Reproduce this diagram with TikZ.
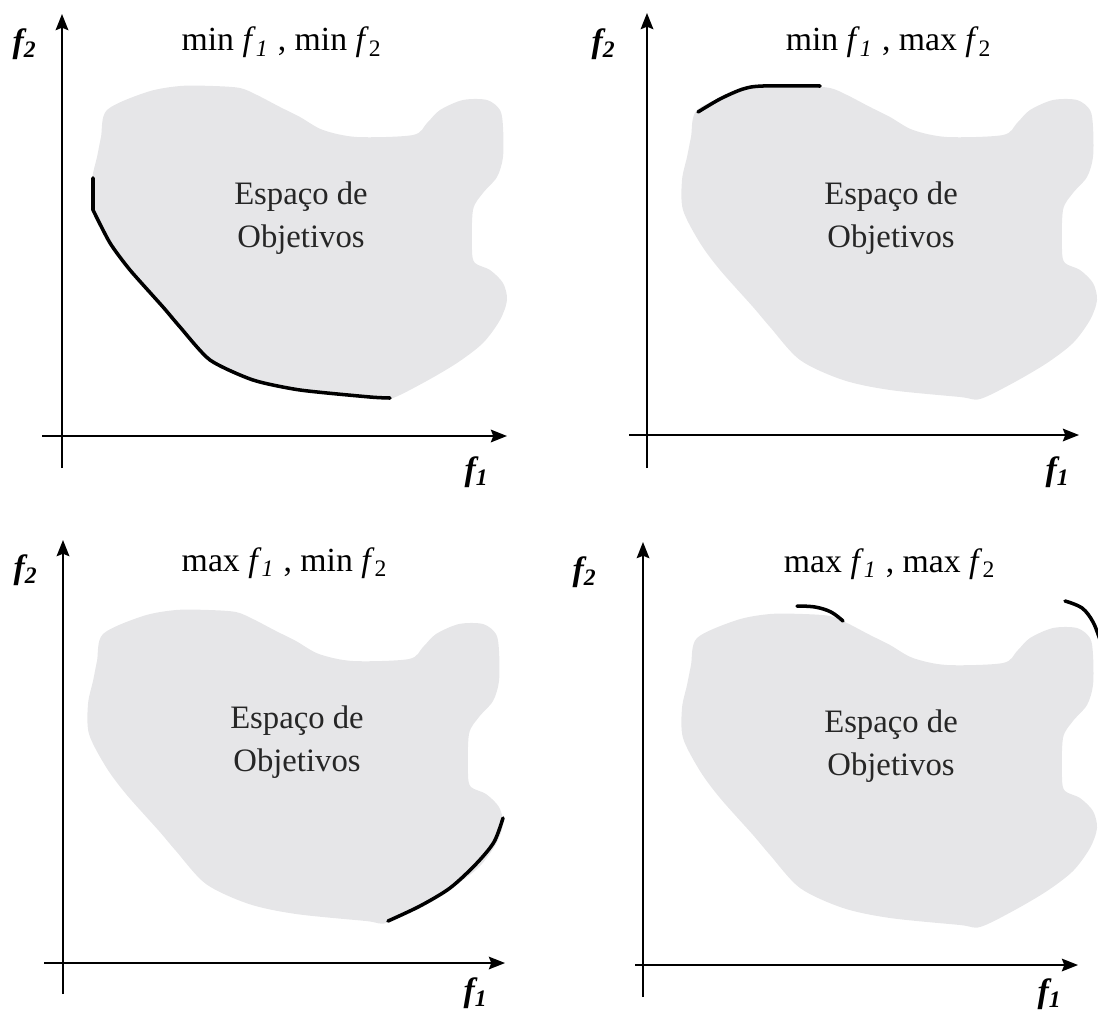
\documentclass[tikz,border=0pt]{standalone}
\usepackage{fontspec}
\setmainfont{Liberation Serif}
\usetikzlibrary{arrows.meta}
\definecolor{blobgray}{RGB}{230,230,232}
\tikzset{
  axis/.style={line width=0.55pt, -{Stealth[length=4.6pt,width=3.6pt,inset=0.7pt]}},
  front/.style={line width=1pt, line cap=round, line join=round},
  spacetext/.style={align=center, text=black!85, font=\fontsize{9.3}{12.2}\selectfont},
  goal/.style={anchor=base, font=\fontsize{9.6}{12}\selectfont},
  axlabel/.style={font=\fontsize{9.6}{12}\selectfont\bfseries\itshape},
  objspace/.pic={
    \fill[blobgray] plot[smooth cycle, tension=0.5] coordinates {(107,110) (147,92) (180,86) (213,86) (240,88) (257,95) (280,107) (300,117) (323,130) (357,137) (413,135) (427,123) (440,110) (463,100) (487,100) (500,110) (503,127) (503,157) (497,177) (483,193) (473,210) (472,250) (475,263) (490,270) (503,283) (507,300) (500,320) (483,343) (457,363) (423,383) (390,399) (370,397) (300,390) (253,380) (210,360) (180,327) (163,307) (130,270) (110,243) (93,210) (92,180) (97,157) (101,137)};
  }
}
\begin{document}
\begin{tikzpicture}[x=0.01cm, y=-0.01cm]
                \useasboundingbox (0,0) rectangle (1098,1012);
                \clip (0,0) rectangle (1098,1012);

                % espacos de objetivos
                \pic at (0,0) {objspace};
                \pic at (590,0) {objspace};
                \pic at (-4,524) {objspace};
                \pic at (590,528) {objspace};

                \node[spacetext] (esp1) at (301,218) {Espaço de\\Objetivos};
                \node[spacetext] (esp2) at (891,218) {Espaço de\\Objetivos};
                \node[spacetext] (esp3) at (297,742) {Espaço de\\Objetivos};
                \node[spacetext] (esp4) at (891,746) {Espaço de\\Objetivos};

                % fronteiras
                \draw[front] (93,178) -- (93,210) -- plot[smooth, tension=0.4] coordinates {(93,210) (110,243) (130,270) (163,307) (180,327) (210,360) (253,380) (300,390) (370,397) (390,398)};
                \draw[front] plot[smooth, tension=0.5] coordinates {(698,112) (720,99) (743,89) (763,86) (820,86)};
                \draw[front] plot[smooth, tension=0.5] coordinates {(388,921) (420,906) (450,888) (476,864) (494,842) (503,818)};
                \draw[front] plot[smooth, tension=0.6] coordinates {(797,606) (815,607) (831,612) (843,621)};
                \draw[front] plot[smooth, tension=0.6] coordinates {(1065,601) (1082,608) (1093,622) (1100,640)};

                % eixos
                \coordinate (x1a) at (42,436);  \coordinate (x1b) at (507,436);
                \coordinate (y1a) at (62,468);  \coordinate (y1b) at (62,14);
                \coordinate (x2a) at (629,435); \coordinate (x2b) at (1079,435);
                \coordinate (y2a) at (647,468); \coordinate (y2b) at (647,13);
                \coordinate (x3a) at (44,963);  \coordinate (x3b) at (505,963);
                \coordinate (y3a) at (63,994);  \coordinate (y3b) at (63,540);
                \coordinate (x4a) at (635,965); \coordinate (x4b) at (1078,965);
                \coordinate (y4a) at (643,997); \coordinate (y4b) at (643,542);

                \draw[axis] (x1a) -- (x1b);
                \draw[axis] (y1a) -- (y1b);
                \draw[axis] (x2a) -- (x2b);
                \draw[axis] (y2a) -- (y2b);
                \draw[axis] (x3a) -- (x3b);
                \draw[axis] (y3a) -- (y3b);
                \draw[axis] (x4a) -- (x4b);
                \draw[axis] (y4a) -- (y4b);

                \node[axlabel] (f2a) at (25,44) {f\textsubscript{2}};
                \node[axlabel] (f1a) at (477,472) {f\textsubscript{1}};
                \node[axlabel] (f2b) at (604,44) {f\textsubscript{2}};
                \node[axlabel] (f1b) at (1058,472) {f\textsubscript{1}};
                \node[axlabel] (f2c) at (26,570) {f\textsubscript{2}};
                \node[axlabel] (f1c) at (476,993) {f\textsubscript{1}};
                \node[axlabel] (f2d) at (585,572) {f\textsubscript{2}};
                \node[axlabel] (f1d) at (1050,994) {f\textsubscript{1}};

                % titulos
                \node[goal] (t1) at (282,51) {min \textit{f}\textsubscript{\textit{1}} , min \textit{f}\textsubscript{2}};
                \node[goal] (t2) at (889,51) {min \textit{f}\textsubscript{\textit{1}} , max \textit{f}\textsubscript{2}};
                \node[goal] (t3) at (285,571) {max \textit{f}\textsubscript{\textit{1}} , min \textit{f}\textsubscript{2}};
                \node[goal] (t4) at (890,572) {max \textit{f}\textsubscript{\textit{1}} , max \textit{f}\textsubscript{2}};
            \end{tikzpicture}
\end{document}
